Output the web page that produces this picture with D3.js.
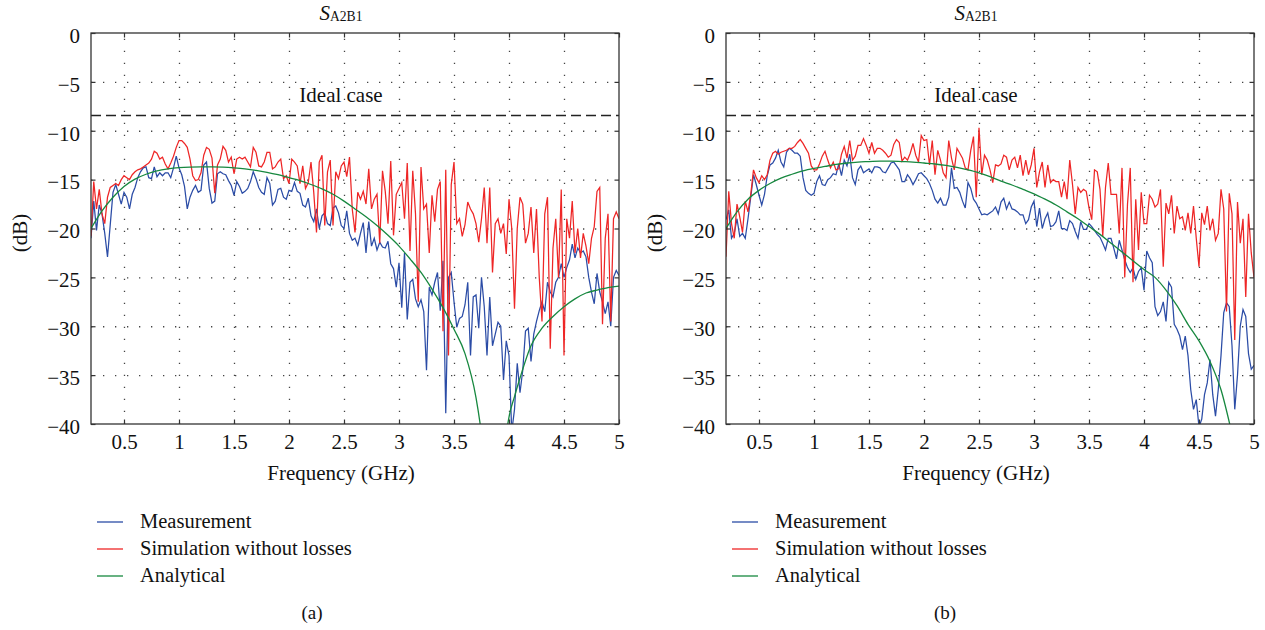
<!DOCTYPE html>
<html>
<head>
<meta charset="utf-8">
<script src="https://cdn.jsdelivr.net/npm/d3@7"></script>
<style>
  body { margin: 0; background: #fff; }
  svg text { font-family: 'Liberation Serif', 'DejaVu Serif', 'Noto Serif', serif; }
</style>
</head>
<body>
<svg id="chart" width="1265" height="630"></svg>
<script>
// sampling grid of the measured / simulated sweeps: 0.2 to 5 GHz, 25 MHz step
const freq = d3.range(193).map((i) => +(0.2 + i * 0.025).toFixed(3));
const xTicks = [0.5, 1, 1.5, 2, 2.5, 3, 3.5, 4, 4.5, 5];
const yTicks = [0, -5, -10, -15, -20, -25, -30, -35, -40];
const idealDb = -8.45;
const legendLabels = ['Measurement', 'Simulation without losses', 'Analytical'];

// panel (a)
const measA = [
  -21.0, -17.2, -20.2, -17.6, -18.5, -20.5, -22.9, -19.6,
  -16.3, -15.5, -16.5, -17.5, -16.3, -16.8, -18.0, -16.5,
  -15.8, -14.8, -14.2, -13.8, -13.7, -14.8, -14.9, -13.7,
  -14.7, -14.3, -14.6, -14.3, -14.3, -14.8, -13.8, -12.6,
  -13.8, -14.5, -15.7, -18.0, -16.8, -16.1, -15.6, -16.3,
  -16.1, -13.5, -13.2, -15.9, -17.4, -17.2, -14.4, -14.2,
  -14.4, -14.5, -15.1, -15.6, -16.6, -15.2, -15.7, -16.4,
  -16.2, -15.9, -15.2, -14.2, -14.9, -15.8, -16.3, -16.5,
  -14.8, -15.4, -17.6, -17.2, -16.0, -15.9, -16.8, -17.0,
  -16.1, -16.2, -15.3, -16.2, -16.4, -17.6, -17.8, -16.9,
  -18.7, -19.3, -18.0, -20.0, -18.7, -18.4, -19.5, -19.7,
  -17.9, -17.7, -18.4, -19.7, -20.0, -18.2, -20.5, -21.2,
  -21.0, -21.7, -20.5, -19.4, -22.5, -19.3, -21.8, -21.0,
  -22.2, -21.4, -21.9, -22.0, -21.3, -23.6, -24.1, -26.0,
  -23.5, -28.1, -22.5, -29.3, -25.5, -25.2, -27.2, -28.0,
  -27.3, -28.5, -34.5, -26.0, -26.8, -25.5, -24.5, -28.4,
  -23.3, -38.9, -25.0, -24.5, -27.5, -30.1, -29.2, -29.0,
  -27.8, -25.5, -33.0, -27.0, -26.8, -30.2, -25.0, -28.0,
  -33.0, -27.0, -32.0, -30.8, -29.6, -30.0, -35.5, -31.5,
  -33.0, -40.8, -38.5, -33.8, -36.8, -34.5, -30.5, -30.2,
  -33.6, -30.8, -29.5, -28.4, -27.5, -28.5, -25.5, -26.5,
  -27.0, -25.5, -25.0, -23.6, -25.0, -24.0, -23.2, -21.6,
  -23.0, -22.0, -22.5, -22.3, -22.9, -25.0, -26.5, -27.7,
  -24.6, -26.5, -27.5, -28.7, -27.5, -30.0, -25.0, -24.3,
  -24.8,
];
const simA = [
  -20.8, -15.2, -18.0, -16.0, -18.5, -19.5, -16.8, -15.8,
  -15.6, -15.4, -15.6, -15.0, -14.6, -14.8, -15.0, -14.5,
  -14.2, -14.0, -13.9, -13.7, -13.5, -13.3, -12.9, -12.1,
  -12.3, -12.9, -12.7, -13.4, -13.9, -13.3, -12.6, -11.7,
  -11.0, -11.0, -11.3, -11.7, -12.9, -14.6, -15.1, -15.0,
  -14.3, -12.5, -11.7, -11.9, -12.8, -16.4, -13.5, -12.9,
  -11.6, -12.0, -13.2, -12.7, -14.4, -12.9, -12.7, -12.9,
  -12.7, -13.2, -13.7, -11.7, -12.2, -13.6, -13.7, -13.2,
  -12.2, -12.2, -13.9, -13.7, -13.2, -12.9, -14.9, -14.6,
  -15.4, -12.9, -13.2, -13.6, -15.4, -13.6, -15.9, -15.3,
  -13.2, -16.3, -20.4, -13.2, -12.5, -19.7, -14.2, -13.0,
  -19.7, -14.2, -14.9, -13.6, -13.2, -14.7, -12.7, -18.0,
  -20.4, -16.3, -17.0, -16.2, -17.5, -13.9, -18.0, -17.0,
  -16.5, -21.5, -14.1, -16.2, -19.5, -13.1, -20.7, -16.5,
  -15.9, -15.3, -19.0, -13.3, -22.3, -14.1, -18.5, -27.5,
  -13.7, -18.0, -17.5, -22.5, -16.6, -19.3, -16.0, -15.2,
  -30.5, -14.0, -33.0, -15.5, -13.2, -19.5, -19.0, -20.8,
  -19.6, -17.3, -18.0, -18.5, -19.5, -21.4, -19.0, -15.8,
  -21.5, -15.8, -24.5, -19.5, -19.0, -20.5, -19.5, -22.6,
  -17.0, -20.0, -28.2, -20.0, -16.8, -17.5, -21.5, -20.5,
  -17.8, -22.5, -18.0, -25.0, -29.5, -18.5, -16.8, -32.3,
  -22.0, -19.0, -25.0, -16.0, -33.0, -19.0, -21.0, -17.2,
  -22.5, -20.0, -23.0, -20.5, -21.8, -23.6, -21.0, -19.8,
  -16.2, -15.8, -29.8, -21.0, -18.5, -29.5, -19.0, -18.3,
  -19.0,
];
const anaFreqA = [
  0.2, 0.3, 0.4, 0.5, 0.6, 0.7, 0.8, 0.9, 1.0, 1.1, 1.2, 1.3, 1.4, 1.5, 1.6, 1.7,
  1.8, 1.9, 2.0, 2.1, 2.2, 2.3, 2.4, 2.5, 2.6, 2.7, 2.8, 2.9, 3.0, 3.1, 3.2, 3.3,
  3.4, 3.5, 3.6, 3.7, 3.75, 3.8, 3.85, 3.9, 3.95, 4.0, 4.05, 4.1, 4.2, 4.3, 4.4,
  4.5, 4.6, 4.7, 4.8, 4.9, 5.0,
];
const anaA = [
  -20.0, -18.2, -16.8, -15.7, -14.95, -14.45, -14.1, -13.9, -13.78, -13.72, -13.7, -13.7, -13.73, -13.8, -13.9, -14.05,
  -14.25, -14.5, -14.8, -15.1, -15.5, -15.95, -16.5, -17.2, -18.0, -18.8, -19.7, -20.7, -21.8, -23.1, -24.5, -26.2,
  -28.1, -30.3, -32.8, -37.3, -41.0, -46.0, -53.0, -60.0, -44.0, -39.3, -37.2, -35.3, -32.0, -30.2, -29.0,
  -28.0, -27.2, -26.6, -26.3, -26.05, -25.9,
];

// panel (b)
const measB = [
  -19.1, -18.1, -21.0, -20.5, -19.0, -20.8, -20.5, -21.0,
  -19.0, -16.8, -14.5, -15.5, -16.6, -17.6, -16.5, -14.6,
  -13.5, -13.3, -12.8, -12.0, -13.2, -13.7, -12.2, -11.8,
  -12.0, -12.3, -12.3, -12.6, -14.8, -16.1, -16.4, -16.6,
  -16.4, -15.2, -14.6, -15.5, -15.6, -15.0, -14.8, -14.4,
  -14.5, -13.4, -14.6, -13.0, -13.6, -12.4, -14.8, -15.5,
  -14.0, -13.6, -14.3, -14.1, -13.9, -14.3, -13.7, -13.7,
  -13.8, -14.2, -14.3, -13.8, -13.3, -13.2, -13.6, -14.0,
  -15.2, -15.2, -14.5, -14.9, -15.5, -15.0, -14.4, -14.3,
  -14.6, -14.9, -15.4, -16.1, -17.0, -17.4, -16.9, -17.6,
  -17.6, -16.8, -13.8, -15.9, -15.8, -16.3, -17.2, -17.9,
  -15.3, -15.9, -17.0, -17.4, -18.0, -18.6, -18.5, -18.6,
  -18.4, -18.2, -17.8, -18.5, -17.3, -16.9, -18.0, -17.3,
  -18.0, -18.1, -18.3, -18.6, -18.6, -19.5, -19.1, -17.8,
  -17.2, -19.8, -17.9, -20.0, -19.0, -18.4, -19.8, -19.7,
  -19.3, -18.2, -20.0, -20.0, -20.2, -19.2, -19.5, -20.3,
  -21.0, -19.3, -20.1, -20.1, -19.5, -19.8, -20.2, -20.6,
  -20.9, -21.5, -22.2, -21.0, -21.0, -22.0, -23.1, -21.2,
  -22.2, -23.2, -24.0, -24.5, -24.0, -25.2, -24.4, -24.0,
  -26.3, -22.3, -23.0, -23.5, -28.0, -28.9, -28.5, -27.5,
  -29.5, -25.5, -26.0, -29.8, -30.3, -31.0, -32.4, -31.0,
  -33.0, -36.5, -38.5, -37.5, -40.3, -39.5, -37.0, -35.8,
  -33.4, -37.0, -39.2, -36.5, -33.0, -28.6, -27.6, -28.0,
  -32.0, -38.5, -35.0, -30.0, -28.3, -29.0, -32.8, -34.4,
  -34.0,
];
const simB = [
  -22.9, -16.2, -19.5, -21.0, -17.5, -18.8, -20.4, -17.2,
  -18.3, -16.5, -14.0, -14.8, -15.3, -14.6, -15.0, -14.5,
  -13.0, -12.3, -12.1, -12.4, -12.2, -12.1, -12.0, -11.8,
  -11.8, -11.6, -11.2, -10.9, -11.3, -11.8, -12.3, -13.6,
  -14.0, -14.0, -13.4, -12.6, -12.1, -13.0, -13.8, -13.2,
  -14.0, -13.9, -12.4, -11.6, -12.8, -11.0, -13.0, -12.6,
  -11.5, -11.5, -10.8, -11.5, -12.3, -11.2, -12.3, -11.8,
  -11.8, -12.0, -12.3, -12.7, -12.5, -11.4, -10.9, -11.2,
  -13.1, -12.7, -13.0, -12.3, -11.3, -12.5, -13.2, -10.5,
  -11.0, -10.9, -13.5, -11.0, -14.5, -12.0, -13.0, -14.3,
  -14.8, -11.0, -12.8, -14.0, -11.8, -12.3, -12.8, -13.8,
  -14.0, -12.0, -10.6, -16.8, -9.7, -14.5, -12.5, -13.0,
  -14.0, -15.3, -13.5, -13.6, -13.4, -12.5, -12.7, -14.0,
  -13.0, -12.7, -13.8, -12.5, -14.6, -13.0, -14.5, -13.5,
  -11.8, -15.8, -14.2, -13.2, -15.8, -13.5, -15.3, -15.0,
  -15.2, -15.2, -16.8, -15.2, -17.0, -13.0, -15.5, -18.5,
  -15.8, -16.3, -16.0, -16.2, -17.9, -19.1, -14.0, -14.2,
  -16.0, -20.8, -15.8, -13.3, -16.5, -16.5, -16.5, -20.5,
  -13.8, -25.0, -17.5, -13.8, -25.5, -17.0, -22.2, -16.3,
  -19.5, -19.5, -16.6, -17.0, -17.8, -17.5, -16.0, -23.9,
  -17.4, -18.5, -16.6, -20.5, -17.7, -19.0, -18.8, -20.2,
  -18.4, -20.5, -17.7, -21.0, -23.9, -18.4, -19.6, -17.7,
  -20.2, -19.0, -21.2, -20.5, -16.0, -18.0, -28.5, -16.4,
  -18.5, -31.4, -17.3, -21.5, -19.0, -27.0, -18.5, -22.5,
  -25.0,
];
const anaFreqB = [
  0.2, 0.3, 0.4, 0.5, 0.6, 0.7, 0.8, 0.9, 1.0, 1.1, 1.2, 1.3, 1.4, 1.5, 1.6, 1.7,
  1.8, 1.9, 2.0, 2.1, 2.2, 2.3, 2.4, 2.5, 2.6, 2.7, 2.8, 2.9, 3.0, 3.1, 3.2, 3.3,
  3.4, 3.5, 3.6, 3.7, 3.8, 3.9, 4.0, 4.1, 4.2, 4.3, 4.4, 4.5, 4.6, 4.7, 4.8, 4.9, 5.0,
];
const anaB = [
  -20.0, -18.3, -17.0, -16.1, -15.4, -14.85, -14.45, -14.1, -13.85, -13.65, -13.45, -13.3, -13.2, -13.15, -13.1, -13.1,
  -13.15, -13.2, -13.3, -13.4, -13.55, -13.75, -14.0, -14.3, -14.7, -15.15, -15.55, -16.0, -16.45, -17.0, -17.6, -18.3,
  -19.0, -19.8, -20.6, -21.5, -22.4, -23.3, -24.2, -25.0, -26.3, -27.9, -29.8, -31.5, -33.6, -36.5, -41.0, -46.0, -52.0,
];

const colors = { meas: '#2b4ca6', sim: '#ee2626', ana: '#17883f' };

const panels = [
  { left: 91, meas: measA, sim: simA, anaF: anaFreqA, ana: anaA, tag: '(a)', tagX: 221 },
  { left: 726, meas: measB, sim: simB, anaF: anaFreqB, ana: anaB, tag: '(b)', tagX: 219 },
];

const svg = d3.select('#chart');
const plotTop = 33;
const width = 528;
const height = 391;
const x = d3.scaleLinear().domain([0.2, 5]).range([0, width]);
const y = d3.scaleLinear().domain([-40, 0]).range([height, 0]);
const fmt = d3.format('');

function styleAxis(sel) {
  sel.select('.domain').remove();
  sel.selectAll('line').attr('stroke', '#333').attr('stroke-width', 1.2);
  sel.selectAll('text').attr('font-family', null).attr('font-size', 21).attr('fill', '#111');
}

panels.forEach((p, i) => {
  const g = svg.append('g').attr('transform', `translate(${p.left},${plotTop})`);

  // dotted grid
  const gridX = g.append('g').attr('transform', `translate(0,${height})`)
    .call(d3.axisBottom(x).tickValues(xTicks.filter((v) => v < 5)).tickSize(-height).tickFormat(''));
  const gridY = g.append('g')
    .call(d3.axisLeft(y).tickValues(yTicks.filter((v) => v > -40 && v < 0)).tickSize(-width).tickFormat(''));
  [gridX, gridY].forEach((sel) => {
    sel.select('.domain').remove();
    sel.selectAll('line').attr('stroke', '#444').attr('stroke-width', 1.3).attr('stroke-dasharray', '1.3,10.7');
  });

  const clipId = `clip-${i}`;
  g.append('clipPath').attr('id', clipId).append('rect').attr('width', width).attr('height', height);
  const plot = g.append('g').attr('clip-path', `url(#${clipId})`);

  const line = d3.line().x((d) => x(d[0])).y((d) => y(d[1]));
  const smooth = d3.line().x((d) => x(d[0])).y((d) => y(d[1])).curve(d3.curveMonotoneX);

  plot.append('path').datum(freq.map((f, k) => [f, p.meas[k]]))
    .attr('d', line).attr('fill', 'none').attr('stroke', colors.meas).attr('stroke-width', 1.25);
  plot.append('path').datum(freq.map((f, k) => [f, p.sim[k]]))
    .attr('d', line).attr('fill', 'none').attr('stroke', colors.sim).attr('stroke-width', 1.25);
  plot.append('path').datum(p.anaF.map((f, k) => [f, p.ana[k]]))
    .attr('d', smooth).attr('fill', 'none').attr('stroke', colors.ana).attr('stroke-width', 1.3);

  // ideal case reference
  plot.append('line')
    .attr('x1', 0).attr('x2', width).attr('y1', y(idealDb)).attr('y2', y(idealDb))
    .attr('stroke', '#222').attr('stroke-width', 1.5).attr('stroke-dasharray', '10,5');
  g.append('text')
    .attr('x', 250).attr('y', y(-7.05))
    .attr('text-anchor', 'middle').attr('font-size', 21).attr('fill', '#111')
    .text('Ideal case');

  // box and inward ticks on all four sides
  g.append('rect').attr('width', width).attr('height', height)
    .attr('fill', 'none').attr('stroke', '#333').attr('stroke-width', 1.3);
  g.append('g').attr('transform', `translate(0,${height})`)
    .call(d3.axisBottom(x).tickValues(xTicks).tickSize(-4.5).tickPadding(10.5).tickFormat(fmt))
    .call(styleAxis);
  g.append('g')
    .call(d3.axisLeft(y).tickValues(yTicks).tickSize(-4.5).tickPadding(11).tickFormat(fmt))
    .call(styleAxis)
    .selectAll('text').attr('dy', '0.44em');
  g.append('g').call(d3.axisTop(x).tickValues(xTicks).tickSize(-4.5).tickFormat('')).call(styleAxis);
  g.append('g').attr('transform', `translate(${width},0)`)
    .call(d3.axisRight(y).tickValues(yTicks).tickSize(-4.5).tickFormat('')).call(styleAxis);

  // title S_A2B1
  const title = g.append('text')
    .attr('x', 250).attr('y', -13.5)
    .attr('text-anchor', 'middle').attr('fill', '#111');
  title.append('tspan').attr('font-style', 'italic').attr('font-size', 21).text('S');
  title.append('tspan').attr('font-size', 13.6).attr('dy', 1.2).text('A2B1');

  g.append('text')
    .attr('x', 250).attr('y', 447)
    .attr('text-anchor', 'middle').attr('font-size', 21).attr('fill', '#111')
    .text('Frequency (GHz)');

  g.append('text')
    .attr('transform', `translate(-71,200) rotate(-90)`)
    .attr('dy', '0.35em')
    .attr('text-anchor', 'middle').attr('font-size', 21).attr('fill', '#111')
    .text('(dB)');

  // legend below the axes
  const legend = g.append('g').attr('transform', 'translate(0,489)');
  [colors.meas, colors.sim, colors.ana].forEach((c, k) => {
    const row = legend.append('g').attr('transform', `translate(0,${k * 27})`);
    row.append('line').attr('x1', 6).attr('x2', 32).attr('stroke', c).attr('stroke-width', 1.3);
    row.append('text')
      .attr('x', 49).attr('y', 5.5)
      .attr('font-size', 20.5).attr('fill', '#111')
      .text(legendLabels[k]);
  });

  g.append('text')
    .attr('x', p.tagX).attr('y', 586)
    .attr('text-anchor', 'middle').attr('font-size', 19).attr('fill', '#111')
    .text(p.tag);
});
</script>
</body>
</html>
